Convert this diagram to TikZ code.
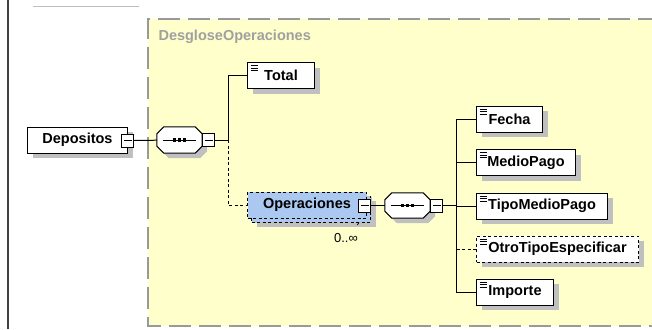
\documentclass[tikz,border=0pt]{standalone}
\usepackage{fontspec}
\setmainfont{Liberation Sans}
\usepackage{tikz}
\usetikzlibrary{shadows}
\definecolor{schemabg}{RGB}{255,255,204}
\definecolor{schemaborder}{RGB}{153,153,153}
\definecolor{opblue}{RGB}{170,200,240}
\definecolor{titlegray}{RGB}{160,160,160}
\definecolor{shadowgray}{RGB}{192,192,192}

% octagon of a sequence compositor, drawn round an empty node
\newcommand\drawseq[1]{%
  \draw[fill=white, line width=1pt, drop shadow={shadow xshift=5pt, shadow yshift=-5pt, fill=shadowgray, opacity=1}]
    ([xshift=7pt]#1.north west) -- ([xshift=-7pt]#1.north east) -- ([yshift=-7pt]#1.north east)
    -- ([yshift=7pt]#1.south east) -- ([xshift=-7pt]#1.south east) -- ([xshift=7pt]#1.south west)
    -- ([yshift=7pt]#1.south west) -- ([yshift=-7pt]#1.north west) -- cycle;
  \draw[line width=0.8pt] ([xshift=6pt]#1.west) -- ([xshift=-6pt]#1.east);
  \foreach \dx in {-5,0,5}
    \fill ([xshift=\dx pt]#1.center) +(-1.9pt,-1.9pt) rectangle +(1.9pt,1.9pt);
}

\begin{document}
\begin{tikzpicture}[x=1pt, y=-1pt,
  every node/.style={font=\bfseries\fontsize{14.5}{16}\selectfont},
  conn/.style={line width=1pt},
  opt/.style={dash pattern=on 3pt off 2.5pt},
  grayshadow/.style={drop shadow={shadow xshift=#1, shadow yshift=-#1, fill=shadowgray, opacity=1}},
  elem/.style={rectangle, draw, fill=white, line width=1pt, anchor=west, minimum height=26pt, inner sep=0pt, grayshadow=5pt},
  leaf/.style={elem,
    path picture={\foreach \d in {3,5.5,8} \draw[solid, line width=0.7pt] ([shift={(3pt,-\d pt)}]path picture bounding box.north west) -- ++(7pt,0);}},
  seqbox/.style={rectangle, minimum width=45pt, minimum height=26pt, inner sep=0pt},
  minusbox/.style={rectangle, draw, fill=white, line width=0.8pt, minimum width=12pt, minimum height=13pt, inner sep=0pt,
    path picture={\draw[line width=0.8pt] ([xshift=2pt]path picture bounding box.west) -- ([xshift=-2pt]path picture bounding box.east);}}
]
\useasboundingbox (0,0) rectangle (652,329);

% left border and top rule
\draw[line width=1.3pt, black!75] (8,0) -- (8,329);
\draw[line width=1pt, black!25] (33,7) -- (139,7);

% complex type area
\fill[schemabg] (148,19) rectangle (652,326);
\draw[schemaborder, line width=1.8pt, dash pattern=on 22pt off 8pt] (660,19) -- (148,19) -- (148,326) -- (660,326);
\node[anchor=west, text=titlegray] (title) at (155,37) {DesgloseOperaciones};

% root element
\node[elem, minimum width=100pt] (dep) at (27,140) {Depositos};
\node[minusbox] (depm) at (127.5,140.5) {};

% first sequence
\node[seqbox] (seqa) at (179.5,140) {};
\drawseq{seqa}
\node[minusbox] (seqam) at (208.5,140) {};
\coordinate (ja) at (228,140);

\node[leaf, minimum width=67pt] (total) at (247,75.5) {Total};
\node[elem, minimum width=119pt, fill=opblue, opt, grayshadow=9pt,
  copy shadow={shadow xshift=4pt, shadow yshift=-4pt, fill=opblue, draw=black, opt, line width=1pt}] (oper) at (247,205) {Operaciones};
\node[minusbox] (operm) at (364.5,205.5) {};
\node[font=\fontsize{13}{15}\selectfont] (occ) at (346,238) {0..∞};

% second sequence
\node[seqbox, minimum height=25pt] (seqb) at (407.5,205.5) {};
\drawseq{seqb}
\node[minusbox] (seqbm) at (436.5,205.5) {};
\coordinate (jb) at (456,205.5);

\node[leaf, minimum width=66pt] (fecha) at (476,119) {Fecha};
\node[leaf, minimum width=99pt] (medio) at (476,162.5) {MedioPago};
\node[leaf, minimum width=131pt] (tipo) at (476,206) {TipoMedioPago};
\node[leaf, minimum width=162pt, opt] (otro) at (476,249) {OtroTipoEspecificar};
\node[leaf, minimum width=77pt] (importe) at (476,292) {Importe};

% connectors
\draw[conn] (depm) -- (seqa);
\draw[conn] (seqam) -- (ja) |- (total);
\draw[conn, opt] (ja) |- (oper);
\draw[line width=0.8pt] ([xshift=-8pt,yshift=-4pt]oper.south east) -- ([xshift=-4pt,yshift=5pt]occ.north east);
\draw[conn] (operm) -- (seqb);
\draw[conn] (seqbm) -- (jb);
\foreach \n in {fecha,medio,tipo,importe}
  \draw[conn] (jb) |- (\n);
\draw[conn, opt] (jb) |- (otro);
\end{tikzpicture}
\end{document}
